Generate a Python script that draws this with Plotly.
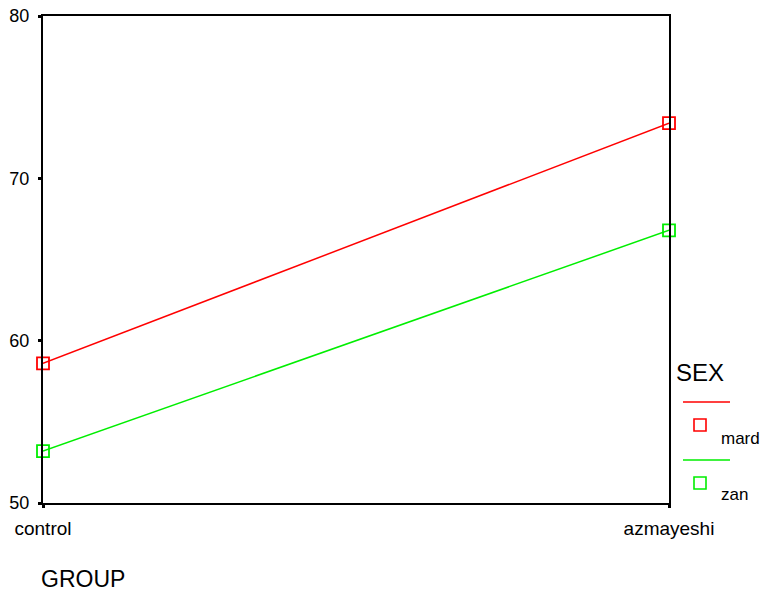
import plotly.graph_objects as go

groups = ["control", "azmayeshi"]
sex_labels = ["mard", "zan"]
mard_vals = [58.6, 73.4]
zan_vals = [53.2, 66.8]
colors = ["#ff0000", "#00ee00"]
y_ticks = [50, 60, 70, 80]

W, H = 766, 592
L, R, T, B = 43, 669, 16, 503


def px(x):
    return (x - L) / (R - L)


def py(y):
    return (B - y) / (B - T)


fig = go.Figure()
for name, vals, col in zip(sex_labels, [mard_vals, zan_vals], colors):
    fig.add_trace(go.Scatter(
        x=[0, 1], y=vals, mode="lines+markers", name=name,
        line=dict(color=col, width=1.5),
        marker=dict(symbol="square-open", size=12, color=col, line=dict(width=1.8, color=col)),
        cliponaxis=False, showlegend=False,
    ))

font = "Liberation Sans, Arial, sans-serif"
fig.update_layout(
    width=W, height=H,
    margin=dict(l=L, r=W - R, t=T, b=H - B, autoexpand=False),
    paper_bgcolor="white", plot_bgcolor="white",
    font=dict(family=font, color="black", size=16),
    showlegend=False,
    xaxis=dict(
        range=[0, 1], tickvals=[0, 1], ticktext=groups,
        showline=True, linecolor="black", linewidth=2, mirror=True,
        ticks="outside", ticklen=3, tickwidth=3, tickcolor="black",
        showgrid=False, zeroline=False, tickfont=dict(size=19),
        ticklabelstandoff=4, automargin=False,
    ),
    yaxis=dict(
        range=[50, 80], tickvals=y_ticks,
        showline=True, linecolor="black", linewidth=2, mirror=True,
        ticks="outside", ticklen=3, tickwidth=3, tickcolor="black",
        showgrid=False, zeroline=False, tickfont=dict(size=18),
        ticklabelstandoff=5, automargin=False,
    ),
)

# axis title
fig.add_annotation(text="GROUP", xref="paper", yref="paper", x=px(40), y=py(579),
                   xanchor="left", yanchor="middle", showarrow=False, font=dict(size=23),
                   borderpad=0)
# custom legend
fig.add_annotation(text="SEX", xref="paper", yref="paper", x=px(674), y=py(372),
                   xanchor="left", yanchor="middle", showarrow=False, font=dict(size=24))
leg_rows = [(402, 425, 438), (460, 483, 494)]
for (ly, my, ty), name, col in zip(leg_rows, sex_labels, colors):
    fig.add_shape(type="line", xref="paper", yref="paper", x0=px(683), x1=px(730),
                  y0=py(ly), y1=py(ly), line=dict(color=col, width=1.5))
    fig.add_shape(type="rect", xref="paper", yref="paper", x0=px(694), x1=px(706),
                  y0=py(my - 6), y1=py(my + 6), line=dict(color=col, width=1.6))
    fig.add_annotation(text=name, xref="paper", yref="paper", x=px(719), y=py(ty),
                       xanchor="left", yanchor="middle", showarrow=False, font=dict(size=17))

fig.write_html("out.html", config={"displayModeBar": False},
               post_script="document.body.style.margin='0';document.body.style.overflow='hidden';")
